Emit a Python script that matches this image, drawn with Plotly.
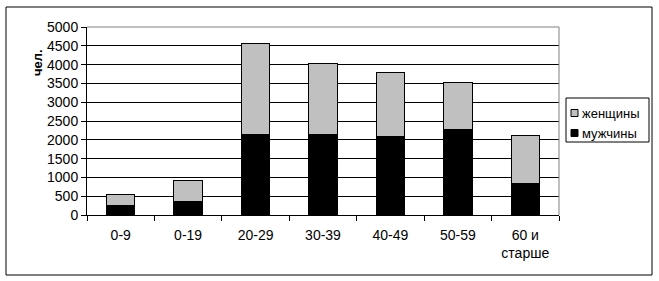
import plotly.graph_objects as go

categories = ["0-9", "0-19", "20-29", "30-39", "40-49", "50-59", "60 и<br>старше"]
men = [265, 372, 2154, 2128, 2101, 2287, 851]
women = [285, 551, 2412, 1906, 1694, 1242, 1258]
y_ticks = [0, 500, 1000, 1500, 2000, 2500, 3000, 3500, 4000, 4500, 5000]
series_names = ["женщины", "мужчины"]
series_colors = ["#c0c0c0", "#000000"]

FONT = "Liberation Sans, Arial, sans-serif"
L, R, T, B = 87, 100, 27, 66
W, H = 659, 281
pw, ph = W - L - R, H - T - B

def px(x):
    return (x - L) / pw

def py(y):
    return (H - B - y) / ph

fig = go.Figure()
fig.add_trace(go.Bar(x=categories, y=men, name=series_names[1],
                     marker=dict(color=series_colors[1], line=dict(color="#000000", width=1))))
fig.add_trace(go.Bar(x=categories, y=women, name=series_names[0],
                     marker=dict(color=series_colors[0], line=dict(color="#000000", width=1))))

fig.update_layout(
    width=W, height=H,
    margin=dict(l=L, r=R, t=T, b=B),
    barmode="stack", bargap=0.58,
    paper_bgcolor="white", plot_bgcolor="white",
    font=dict(family=FONT, size=13, color="black"),
    showlegend=False,
    xaxis=dict(showline=True, linecolor="black", linewidth=1,
               ticks="outside", tickson="boundaries", ticklen=5, tickcolor="black",
               ticklabelstandoff=7, tickfont=dict(size=14),
               showgrid=False, fixedrange=True),
    yaxis=dict(range=[0, 5000], tickvals=y_ticks, showline=True, linecolor="black",
               linewidth=1, ticks="outside", ticklen=5, tickcolor="black",
               tickfont=dict(size=14),
               showgrid=True, gridcolor="black", gridwidth=1, zeroline=False,
               fixedrange=True),
)

# gray top/right frame of plot area
fig.add_shape(type="line", xref="paper", yref="paper", x0=0, x1=1, y0=1, y1=1,
              line=dict(color="#808080", width=1))
fig.add_shape(type="line", xref="paper", yref="paper", x0=1, x1=1, y0=0, y1=1,
              line=dict(color="#808080", width=1))
# outer chart border
fig.add_shape(type="rect", xref="paper", yref="paper",
              x0=px(6), x1=px(652), y0=py(275), y1=py(7),
              line=dict(color="black", width=1))

# legend (manual)
fig.add_shape(type="rect", xref="paper", yref="paper",
              x0=px(566), x1=px(649), y0=py(142), y1=py(98),
              line=dict(color="black", width=1), fillcolor="white")
for i, (name, col) in enumerate(zip(series_names, series_colors)):
    cy = 113 + 20 * i
    fig.add_shape(type="rect", xref="paper", yref="paper",
                  x0=px(571), x1=px(578), y0=py(cy + 3.5), y1=py(cy - 3.5),
                  line=dict(color="black", width=1), fillcolor=col)
    fig.add_annotation(text=name, xref="paper", yref="paper",
                       x=px(580), y=py(cy), xanchor="left", yanchor="middle",
                       showarrow=False, font=dict(size=13, family=FONT))

fig.add_annotation(text="<b>чел.</b>", xref="paper", yref="paper",
                   x=px(28), y=py(47), showarrow=False, textangle=-90,
                   font=dict(size=13, family=FONT))

fig.write_html("out.html")
